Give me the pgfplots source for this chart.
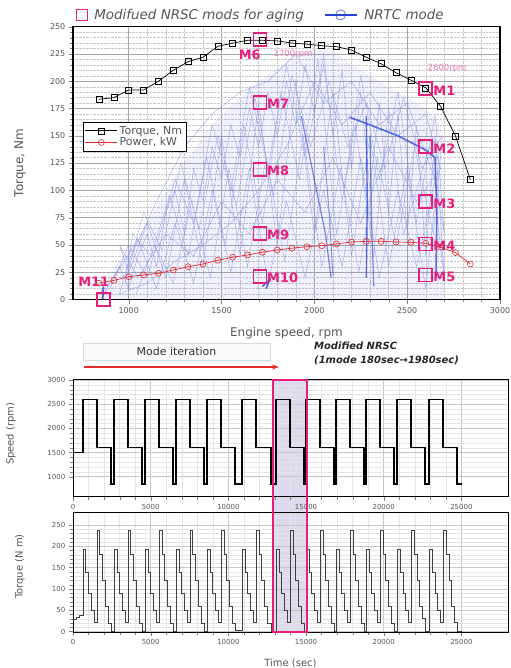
\documentclass[border=0pt]{standalone}
\usepackage{fontspec}
\setmainfont{DejaVu Sans}
\usepackage{pgfplots}
\pgfplotsset{compat=1.18}
\usetikzlibrary{arrows.meta}
\definecolor{pinkM}{RGB}{232,30,125}
\definecolor{powred}{RGB}{225,45,45}
\definecolor{nrtcblue}{RGB}{45,65,215}
\definecolor{cloudblue}{RGB}{130,140,230}
\definecolor{hlfill}{RGB}{222,218,238}
\definecolor{txtgray}{RGB}{85,85,85}
\pgfplotsset{
  legend image code/.code={\draw[mark repeat=2,mark phase=2] plot coordinates {(0bp,0bp)(16bp,0bp)(32bp,0bp)};},
  /pgf/number format/assume math mode=true,
  /pgf/number format/1000 sep={},
}
\begin{document}
\begin{tikzpicture}
\useasboundingbox (0,0) rectangle (511bp,668bp);
% highlighted mode (drawn under the axes)
\fill[hlfill] (272.7bp,36bp) rectangle (306.7bp,288bp);
% ================= TOP: torque map =================
\begin{axis}[
  at={(73bp,368.5bp)}, anchor=south west, scale only axis,
  width=427bp, height=272.8bp,
  xmin=700, xmax=3000, ymin=0, ymax=250,
  xtick={1000,1500,2000,2500,3000},
  ytick={0,25,...,250},
  minor x tick num=4, minor y tick num=4,
  grid=both,
  major grid style={gray!70, line width=0.5pt},
  minor grid style={gray!45, densely dotted, line width=0.4pt},
  tick align=outside, xtick pos=lower, ytick pos=left,
  axis line style={line width=1.1bp},
  ticklabel style={font=\fontsize{8}{9}\selectfont, text=txtgray},
  xlabel={Engine speed, rpm}, ylabel={Torque, Nm},
  xlabel style={at={(axis description cs:0.5,-0.123)}, anchor=center, font=\fontsize{12}{13}\selectfont, text=txtgray},
  ylabel style={at={(axis description cs:-0.124,0.5)}, anchor=center, font=\fontsize{12}{13}\selectfont, text=txtgray},
  legend style={at={(0.023,0.651)}, anchor=north west, draw=black, fill=white,
    font=\fontsize{11}{12}\selectfont, text=txtgray, row sep=-2pt, inner sep=2pt},
  legend cell align=left,
]
% NRTC cloud (density area)
\addplot[fill=cloudblue, fill opacity=0.12, draw=none, forget plot] coordinates {
(850,0) (900,25) (1000,45) (1100,70) (1200,100) (1300,125) (1400,150) (1500,170)
(1600,185) (1700,200) (1800,212) (1900,225) (2000,230) (2100,228) (2200,215)
(2300,205) (2400,195) (2500,185) (2600,175) (2680,160) (2700,100) (2700,0)} -- cycle;
% NRTC cloud lines
\addplot[cloudblue, opacity=0.65, line width=0.5pt, forget plot] coordinates {
(850,0) (900,15) (950,30) (1000,10) (1050,40) (1100,60) (1150,30) (1200,80) (1250,100)
(1300,60) (1350,120) (1400,90) (1450,140) (1500,110) (1550,160) (1600,130) (1650,175)
(1700,140) (1750,190) (1800,150) (1850,200) (1900,160) (1950,215) (2000,170) (2050,225)
(2100,150) (2150,210) (2200,120) (2250,190) (2300,100) (2350,180) (2400,80) (2450,170)
(2500,60) (2550,160) (2600,40) (2650,150) (2700,20) (2650,90) (2600,10) (2500,120)
(2400,30) (2300,150) (2200,40) (2100,190) (2000,60) (1900,200) (1800,50) (1700,180)
(1600,40) (1500,150) (1400,30) (1300,110) (1200,20) (1100,70) (1000,25) (950,50)
(1050,20) (1200,60) (1350,40) (1500,90) (1650,60) (1800,110) (1950,80) (2100,130)
(2250,70) (2400,140) (2550,90) (2680,120) (2600,170) (2450,150) (2300,190) (2150,160)
(2000,200) (1850,140) (1700,100) (1550,70) (1400,50) (1250,35) (1100,15) (950,5)
(1000,35) (1150,90) (1300,140) (1450,170) (1600,190) (1750,200) (1900,225) (2050,180)
(2200,200) (2350,160) (2500,180) (2650,110) (2550,30) (2450,100) (2350,20) (2250,130)
(2150,30) (2050,100) (1950,20) (1850,90) (1750,15) (1650,120) (1550,25) (1450,100)
(1350,15) (1250,70) (1150,10) (1050,55) (920,20)};
\addplot[cloudblue, opacity=0.6, line width=0.5pt, forget plot] coordinates {
(900,10) (1000,50) (1100,20) (1250,110) (1350,70) (1450,160) (1550,100) (1650,195)
(1750,120) (1850,215) (1950,130) (2050,215) (2150,90) (2250,205) (2350,110) (2450,190)
(2550,70) (2650,170) (2700,60) (2620,140) (2480,60) (2400,175) (2320,40) (2220,160)
(2120,60) (2020,220) (1920,110) (1820,190) (1720,70) (1620,160) (1520,50) (1420,130)
(1320,40) (1220,95) (1120,40) (1020,60) (980,15) (1080,80) (1180,45) (1280,125)
(1380,65) (1480,150) (1580,85) (1680,185) (1780,95) (1880,205) (1980,140) (2080,200)
(2180,140) (2280,180) (2380,120) (2480,185) (2580,120) (2690,150) (2640,60) (2540,140)
(2440,50) (2340,130) (2240,25) (2140,120) (2040,30) (1940,150) (1840,35) (1740,130)
(1640,30) (1540,120) (1440,20) (1340,90) (1240,15) (1140,50) (1040,5)};
% NRTC dense streaks
\addplot[nrtcblue, opacity=0.75, line width=1.6pt, forget plot] coordinates {
(2190,167) (2300,160) (2450,150) (2600,137) (2650,130) (2660,80) (2655,20)};
\addplot[nrtcblue, opacity=0.75, line width=1.4pt, forget plot] coordinates {
(2280,168) (2285,90) (2280,20)};
\addplot[nrtcblue, opacity=0.6, line width=1.2pt, forget plot] coordinates {
(2300,150) (2310,60) (2320,12)};
\addplot[nrtcblue, opacity=0.6, line width=1.2pt, forget plot] coordinates {
(1930,168) (2000,110) (2060,60) (2090,20)};
\addplot[nrtcblue, opacity=0.5, line width=1.0pt, forget plot] coordinates {
(2050,140) (2080,80) (2100,22)};
\addplot[nrtcblue, opacity=0.8, line width=1.6pt, forget plot] coordinates {
(1720,12) (1760,18) (1740,10)};
\addplot[nrtcblue, opacity=0.8, line width=1.6pt, forget plot] coordinates {
(860,0) (865,12) (855,5)};
% Torque curve
\addplot[black, line width=0.7pt, mark=square, mark size=3bp, mark options={solid, fill=white, line width=0.6pt}] coordinates {
(840,183.5) (920,185) (1000,192) (1080,192) (1160,200) (1240,210) (1320,218) (1400,222)
(1480,232) (1560,235) (1640,237.5) (1720,237.5) (1800,237) (1880,235) (1960,234)
(2040,232.6) (2120,231.7) (2200,228.6) (2280,222) (2360,216) (2440,207.8) (2520,201)
(2600,194) (2680,177) (2760,150) (2840,110)};
\addlegendentry{Torque, Nm}
% Power curve
\addplot[powred, line width=0.7pt, mark=o, mark size=3bp, mark options={solid, line width=0.6pt}] coordinates {
(840,15) (920,17.5) (1000,20.9) (1080,22.5) (1160,24) (1240,27) (1320,30) (1400,32.5)
(1480,36) (1560,38.7) (1640,40.8) (1720,43.3) (1800,45.4) (1880,47) (1960,48.4)
(2040,49.3) (2120,50.9) (2200,52.7) (2280,53.3) (2360,53.3) (2440,52.7) (2520,52.4)
(2600,51.5) (2680,48) (2760,43) (2840,32.5)};
\addlegendentry{Power, kW}
% Modified NRSC modes
\addplot[only marks, pinkM, mark=square, mark size=6.5bp, mark options={line width=1.5pt}, forget plot] coordinates {
(2600,193.5) (2600,140) (2600,90) (2600,50.8) (2600,22.5)
(1706,238.4) (1706,180.7) (1706,119) (1706,60.7) (1706,21) (865,0)};
\begin{scope}[every node/.style={text=pinkM, font=\bfseries\fontsize{13}{13}\selectfont, inner sep=0pt}]
\node[anchor=west] at (axis cs:2640,191) {M1};
\node[anchor=west] at (axis cs:2640,138) {M2};
\node[anchor=west] at (axis cs:2640,88) {M3};
\node[anchor=west] at (axis cs:2640,49) {M4};
\node[anchor=west] at (axis cs:2640,21) {M5};
\node at (axis cs:1652,224) {M6};
\node[anchor=west] at (axis cs:1745,179) {M7};
\node[anchor=west] at (axis cs:1745,118) {M8};
\node[anchor=west] at (axis cs:1745,59) {M9};
\node[anchor=west] at (axis cs:1745,20) {M10};
\node at (axis cs:812,16) {M11};
\end{scope}
\node[text=pinkM!60, font=\fontsize{8.5}{9}\selectfont] at (axis cs:1885,225) {1700rpm};
\node[text=pinkM!60, font=\fontsize{8.5}{9}\selectfont] at (axis cs:2715,212) {2600rpm};
\end{axis}
% ================= top legend =================
\begin{axis}[
  at={(73bp,368.5bp)}, anchor=south west, scale only axis,
  width=427bp, height=272.8bp, hide axis,
  xmin=0, xmax=1, ymin=0, ymax=1,
  legend columns=2,
  legend style={at={(0.005,1.01)}, anchor=south west, draw=none, fill=none,
    font=\itshape\fontsize{13.5}{14}\selectfont, text=txtgray, inner sep=1pt,
    /tikz/every odd column/.append style={column sep=5bp},
    /tikz/every even column/.append style={column sep=18bp}},
]
\addlegendimage{only marks, pinkM, mark=square, mark size=5.5bp, mark options={line width=1.4pt}}
\addlegendentry{Modifued NRSC mods for aging}
\addlegendimage{nrtcblue, line width=1.4pt, mark=o, mark size=5bp, mark options={line width=0.8pt, opacity=0.7}}
\addlegendentry{NRTC mode}
\end{axis}
% ================= speed vs time =================
\begin{axis}[
  at={(73bp,171bp)}, anchor=south west, scale only axis,
  width=435bp, height=117bp,
  xmin=0, xmax=28000, ymin=580, ymax=3000,
  xtick={0,5000,...,25000}, ytick={1000,1500,...,3000},
  minor x tick num=4, minor y tick num=4,
  scaled x ticks=false,
  grid=both,
  major grid style={gray!45, line width=0.5pt},
  minor grid style={gray!20, line width=0.3pt},
  tick align=outside, xtick pos=lower, ytick pos=left,
  axis line style={line width=1bp},
  ticklabel style={font=\fontsize{7}{8}\selectfont, text=txtgray},
  ylabel={Speed (rpm)},
  ylabel style={at={(axis description cs:-0.143,0.54)}, anchor=center, font=\fontsize{10}{11}\selectfont, text=txtgray},
]
\addplot[const plot, black, line width=1.5pt] coordinates {
(0,1500)
(640,2600) (1540,1600) (2440,850)
(2640,2600) (3540,1600) (4440,850)
(4640,2600) (5540,1600) (6440,850)
(6630,2600) (7530,1600) (8430,850)
(8630,2600) (9530,1600) (10430,850)
(10880,2600) (11780,1600) (12740,850)
(13070,2600) (13970,1600) (14870,850)
(15000,2600) (15900,1600) (16800,850)
(16940,2600) (17840,1600) (18740,850)
(18870,2600) (19770,1600) (20670,850)
(20870,2600) (21770,1600) (22670,850)
(22930,2600) (23830,1600) (24730,850)
(25050,850)};
\end{axis}
% ================= torque vs time =================
\begin{axis}[
  at={(73bp,36bp)}, anchor=south west, scale only axis,
  width=435bp, height=119bp,
  xmin=0, xmax=28000, ymin=-1, ymax=278,
  xtick={0,5000,...,25000}, ytick={0,50,...,250},
  minor x tick num=4, minor y tick num=4,
  scaled x ticks=false,
  grid=both,
  major grid style={gray!45, line width=0.5pt},
  minor grid style={gray!20, line width=0.3pt},
  tick align=outside, xtick pos=lower, ytick pos=left,
  axis line style={line width=1bp},
  ticklabel style={font=\fontsize{7}{8}\selectfont, text=txtgray},
  xlabel={Time (sec)}, ylabel={Torque (N m)},
  xlabel style={at={(axis description cs:0.5,-0.26)}, anchor=center, font=\fontsize{10}{11}\selectfont, text=txtgray},
  ylabel style={at={(axis description cs:-0.122,0.55)}, anchor=center, font=\fontsize{10}{11}\selectfont, text=txtgray},
]
\addplot[const plot, black!75, line width=0.6pt] coordinates {
(0,28) (200,34) (400,38)
(640,194) (820,140) (1000,90) (1180,50) (1360,22) (1540,238) (1720,180) (1900,120) (2080,60) (2260,20) (2440,0)
(2640,194) (2820,140) (3000,90) (3180,50) (3360,22) (3540,238) (3720,180) (3900,120) (4080,60) (4260,20) (4440,0)
(4640,194) (4820,140) (5000,90) (5180,50) (5360,22) (5540,238) (5720,180) (5900,120) (6080,60) (6260,20) (6440,0)
(6630,194) (6810,140) (6990,90) (7170,50) (7350,22) (7530,238) (7710,180) (7890,120) (8070,60) (8250,20) (8430,0)
(8630,194) (8810,140) (8990,90) (9170,50) (9350,22) (9530,238) (9710,180) (9890,120) (10070,60) (10250,20) (10430,4)
(10880,194) (11060,140) (11240,90) (11420,50) (11600,22) (11780,238) (11960,180) (12140,120) (12320,60) (12500,20) (12740,0)
(13070,194) (13250,140) (13430,90) (13610,50) (13790,22) (13970,238) (14150,180) (14330,120) (14510,60) (14690,20) (14870,0)
(15000,194) (15180,140) (15360,90) (15540,50) (15720,22) (15900,238) (16080,180) (16260,120) (16440,60) (16620,20) (16800,0)
(16940,194) (17120,140) (17300,90) (17480,50) (17660,22) (17840,238) (18020,180) (18200,120) (18380,60) (18560,20) (18740,0)
(18870,194) (19050,140) (19230,90) (19410,50) (19590,22) (19770,238) (19950,180) (20130,120) (20310,60) (20490,20) (20670,0)
(20870,194) (21050,140) (21230,90) (21410,50) (21590,22) (21770,238) (21950,180) (22130,120) (22310,60) (22490,30) (22670,0)
(22930,194) (23110,140) (23290,90) (23470,50) (23650,22) (23830,238) (24010,180) (24190,120) (24370,60) (24550,22) (24730,0)
(25050,0)};
\end{axis}
% highlight border on top
\draw[pinkM, line width=1.8bp] (272.7bp,36bp) rectangle (306.7bp,288bp);
% annotations between panels
\node[draw=gray!30, fill=gray!4, minimum width=187bp, minimum height=17bp, inner sep=0pt,
      font=\fontsize{11}{12}\selectfont, text=black!80] at (176.5bp,316.5bp) {Mode iteration};
\draw[-{Stealth[length=7bp,width=5bp]}, powred, line width=1.5bp] (84bp,301bp) -- (279bp,301bp);
\node[anchor=west, font=\bfseries\itshape\fontsize{10}{11}\selectfont, text=black!85, inner sep=0pt] at (314bp,322bp) {Modified NRSC};
\node[anchor=west, font=\bfseries\itshape\fontsize{10}{11}\selectfont, text=black!85, inner sep=0pt] at (314bp,308bp) {(1mode 180sec→1980sec)};
\end{tikzpicture}
\end{document}
